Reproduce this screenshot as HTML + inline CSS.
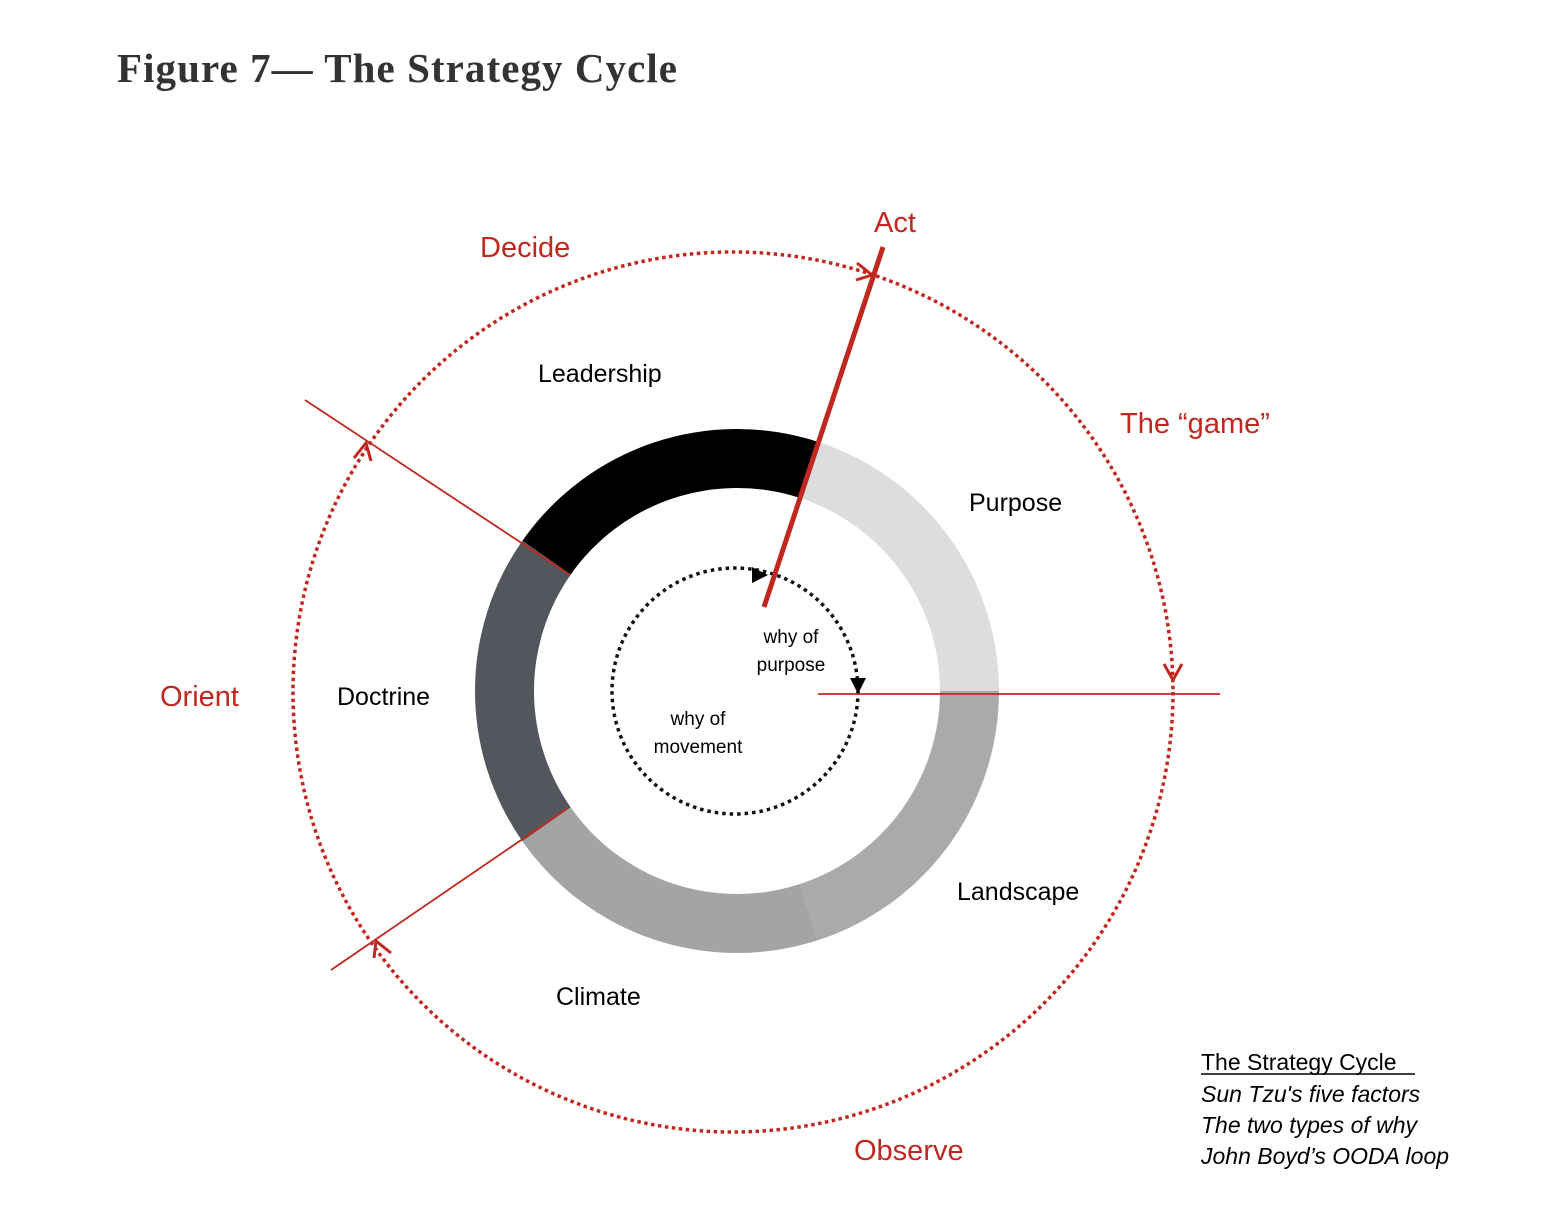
<!DOCTYPE html>
<html><head><meta charset="utf-8"><style>
html,body{margin:0;padding:0;background:#fff;}
svg{display:block}
</style></head><body>
<svg id="s" width="1566" height="1222" viewBox="0 0 1566 1222" xmlns="http://www.w3.org/2000/svg">
<text x="117" y="82" font-family="Liberation Serif, serif" font-weight="bold" font-size="41" fill="#333" textLength="560" lengthAdjust="spacing">Figure 7— The Strategy Cycle</text>
<g id="ring"></g>
<circle cx="733" cy="692" r="440" fill="none" stroke="#c0281f" stroke-width="3.5" stroke-dasharray="3.5 3.5"/>
<circle cx="735" cy="691" r="123" fill="none" stroke="#111" stroke-width="3.5" stroke-dasharray="3.5 4"/>
<line x1="883" y1="247" x2="764" y2="607" stroke="#c0281f" stroke-width="5"/>
<line x1="305" y1="400" x2="570" y2="575" stroke="#c0281f" stroke-width="1.8"/>
<line x1="331" y1="970" x2="568" y2="808" stroke="#c0281f" stroke-width="1.8"/>
<line x1="818" y1="694" x2="1220" y2="694" stroke="#c0281f" stroke-width="1.8"/>
<g fill="none" stroke="#c0281f" stroke-width="3">
<polyline points="857,263 872,275 856,280"/>
<polyline points="1164,664 1173,680 1182,664"/>
<polyline points="354,458 366,443 371,461"/>
<polyline points="391,953 376,941 374,958"/>
</g>
<polygon points="752,567 768,575 752,583" fill="#000"/>
<polygon points="850,678 866,678 858,694" fill="#000"/>
<g font-family="Liberation Sans, sans-serif" fill="#c0281f" font-size="29">
<text x="874" y="232">Act</text>
<text x="480" y="257">Decide</text>
<text x="1120" y="433">The “game”</text>
<text x="160" y="706">Orient</text>
<text x="854" y="1160">Observe</text>
</g>
<g font-family="Liberation Sans, sans-serif" fill="#000" font-size="25">
<text x="538" y="382">Leadership</text>
<text x="969" y="511">Purpose</text>
<text x="337" y="705">Doctrine</text>
<text x="957" y="900">Landscape</text>
<text x="556" y="1005">Climate</text>
</g>
<g font-family="Liberation Sans, sans-serif" fill="#000" font-size="19" text-anchor="middle">
<text x="791" y="643">why of</text>
<text x="791" y="671">purpose</text>
<text x="698" y="725">why of</text>
<text x="698" y="753">movement</text>
</g>
<g font-family="Liberation Sans, sans-serif" fill="#000" font-size="23">
<text x="1201" y="1070">The Strategy Cycle</text>
<line x1="1201" y1="1074" x2="1415" y2="1074" stroke="#000" stroke-width="1.5"/>
<g font-style="italic">
<text x="1201" y="1102">Sun Tzu's five factors</text>
<text x="1201" y="1133">The two types of why</text>
<text x="1201" y="1164">John Boyd’s OODA loop</text>
</g>
</g>
</svg>
<script>
(function(){
var cx=737,cy=691,R=262,r=203,g=document.getElementById('ring');
function p(a,rad){var t=a*Math.PI/180;return [cx+rad*Math.cos(t),cy-rad*Math.sin(t)];}
function seg(a1,a2,col){
 var o1=p(a1,R),o2=p(a2,R),i2=p(a2,r),i1=p(a1,r);
 var large=(a1-a2)>180?1:0;
 var d='M'+o1+' A'+R+' '+R+' 0 '+large+' 1 '+o2+' L'+i2+' A'+r+' '+r+' 0 '+large+' 0 '+i1+' Z';
 var e=document.createElementNS('http://www.w3.org/2000/svg','path');
 e.setAttribute('d',d);e.setAttribute('fill',col);g.appendChild(e);}
seg(145,72,'#000');
seg(72,0,'#dcdddf');
seg(0,-72,'#a9aaaa');
seg(-72,-145,'#a2a5a4');
seg(215,145,'#53575d');
})();
</script>
</body></html>
